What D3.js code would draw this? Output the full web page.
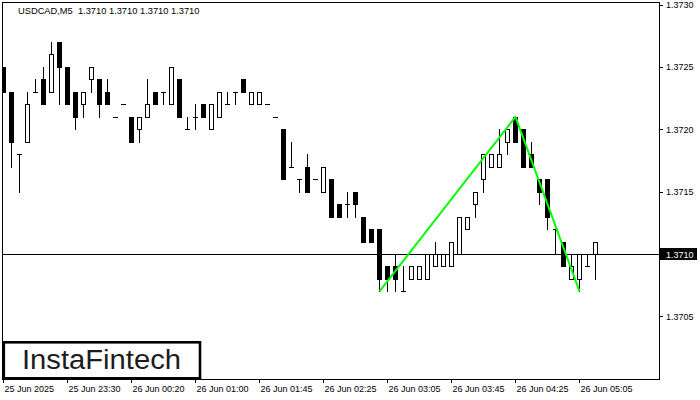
<!DOCTYPE html>
<html>
<head>
<meta charset="utf-8">
<script src="https://cdn.jsdelivr.net/npm/d3@7/dist/d3.min.js"></script>
<style>
  html, body { margin: 0; padding: 0; background: #fff; }
  svg { display: block; }
  text { font-family: "Liberation Sans", Arial, sans-serif; }
</style>
</head>
<body>
<svg id="chart" width="700" height="400"></svg>
<script>
// ---- data (USDCAD M5) ----
const symbolTitle = "USDCAD,M5  1.3710 1.3710 1.3710 1.3710";
const opens = [1.3725,1.3723,1.3718,1.3719,1.3723,1.3724,1.3723,1.3727,1.3725,1.3723,
  1.3722,1.3724,1.3724,1.3723,1.3721,1.3722,1.3721,1.3720,1.3721,1.3723,
  1.3723,1.3722,1.3724,1.3720,1.3721,1.3722,1.3720,1.3721,1.3722,1.3723,
  1.3724,1.3722,1.3722,1.3722,1.3721,1.3720,1.3717,1.3716,1.3717,1.3716,
  1.3715,1.3716,1.3714,1.3714,1.3715,1.3713,1.3712,1.3712,1.3709,1.3709,
  1.3707,1.3708,1.3708,1.3708,1.3709,1.3709,1.3709,1.3710,1.3712,1.3714,
  1.3716,1.3717,1.3717,1.3719,1.3721,1.3720,1.3718,1.3716,1.3716,1.3712,
  1.3711,1.3708,1.3708,1.3709,1.3710];
const highs = [1.3725,1.3723,1.3718,1.3723,1.3724,1.3725,1.3727,1.3727,1.3725,1.3723,
  1.3723,1.3725,1.3724,1.3724,1.3721,1.3722,1.3721,1.3721,1.3724,1.3723,
  1.3723,1.3725,1.3724,1.3721,1.3722,1.3722,1.3722,1.3723,1.3723,1.3723,
  1.3724,1.3723,1.3723,1.3722,1.3721,1.3720,1.3719,1.3716,1.3718,1.3716,
  1.3717,1.3716,1.3714,1.3715,1.3715,1.3713,1.3712,1.3712,1.3709,1.3710,
  1.3709,1.3709,1.3709,1.3710,1.3711,1.3710,1.3711,1.3713,1.3713,1.3715,
  1.3718,1.3718,1.3720,1.3720,1.3721,1.3720,1.3719,1.3716,1.3716,1.3712,
  1.3711,1.3710,1.3710,1.3710,1.3711];
const lows = [1.3723,1.3717,1.3715,1.3719,1.3723,1.3722,1.3723,1.3722,1.3722,1.3720,
  1.3721,1.3723,1.3721,1.3722,1.3721,1.3722,1.3719,1.3719,1.3721,1.3722,
  1.3722,1.3722,1.3721,1.3720,1.3720,1.3721,1.3720,1.3721,1.3722,1.3722,
  1.3723,1.3722,1.3722,1.3722,1.3721,1.3716,1.3717,1.3715,1.3715,1.3716,
  1.3715,1.3713,1.3713,1.3713,1.3713,1.3711,1.3711,1.3707,1.3707,1.3707,
  1.3707,1.3708,1.3708,1.3708,1.3709,1.3709,1.3709,1.3710,1.3712,1.3713,
  1.3715,1.3717,1.3717,1.3718,1.3719,1.3717,1.3717,1.3714,1.3712,1.3710,
  1.3709,1.3708,1.3707,1.3709,1.3708];
const closes = [1.3723,1.3719,1.3718,1.3722,1.3723,1.3722,1.3726,1.3725,1.3722,1.3721,
  1.3723,1.3725,1.3722,1.3722,1.3721,1.3722,1.3719,1.3721,1.3722,1.3722,
  1.3723,1.3725,1.3721,1.3720,1.3721,1.3721,1.3722,1.3723,1.3722,1.3723,
  1.3723,1.3723,1.3723,1.3722,1.3721,1.3716,1.3717,1.3716,1.3715,1.3716,
  1.3717,1.3713,1.3713,1.3714,1.3714,1.3711,1.3711,1.3708,1.3708,1.3708,
  1.3707,1.3709,1.3709,1.3710,1.3710,1.3710,1.3711,1.3713,1.3713,1.3715,
  1.3718,1.3718,1.3718,1.3720,1.3719,1.3717,1.3717,1.3715,1.3713,1.3712,
  1.3709,1.3709,1.3710,1.3709,1.3711];
const timeTickIndex = [0, 8, 16, 24, 32, 40, 48, 56, 64, 72];
const timeTickLabels = ["25 Jun 2025","25 Jun 23:30","26 Jun 00:20","26 Jun 01:00","26 Jun 01:45",
  "26 Jun 02:25","26 Jun 03:05","26 Jun 03:45","26 Jun 04:25","26 Jun 05:05"];
const priceTicks = [1.3705, 1.3715, 1.3720, 1.3725, 1.3730];
const currentPrice = 1.3710;
const patternIndex = [47, 64, 72];
const patternPrice = [1.3707, 1.3721, 1.3707];
const logoText = "InstaFintech";

// ---- layout ----
const W = 700, H = 400;
const plotL = 2, plotR = 659, plotT = 2, plotB = 379;
const svg = d3.select("#chart");
svg.append("rect").attr("width", W).attr("height", H).attr("fill", "#fff");

const x = d3.scaleLinear().domain([0, opens.length - 1]).range([3, 3 + 8 * (opens.length - 1)]);
const y = d3.scaleLinear().domain([1.3700, 1.3730]).range([378.7, 4.6]);
const py = v => Math.round(y(v));

svg.append("clipPath").attr("id", "plotclip").append("rect")
  .attr("x", plotL + 1).attr("y", plotT + 1).attr("width", plotR - plotL - 1).attr("height", plotB - plotT - 1);

const plot = svg.append("g").attr("clip-path", "url(#plotclip)").attr("shape-rendering", "crispEdges");

// current price line
plot.append("line")
  .attr("x1", plotL).attr("x2", plotR)
  .attr("y1", py(currentPrice) + 0.5).attr("y2", py(currentPrice) + 0.5)
  .attr("stroke", "#000").attr("stroke-width", 1);

const bars = opens.map((o, i) => ({ i, o, h: highs[i], l: lows[i], c: closes[i] }));
const g = plot.selectAll("g.bar").data(bars).join("g").attr("class", "bar");

// wicks
g.append("line")
  .attr("x1", d => x(d.i) + 0.5).attr("x2", d => x(d.i) + 0.5)
  .attr("y1", d => py(d.h)).attr("y2", d => py(d.l) + 1)
  .attr("stroke", "#000").attr("stroke-width", 1);

// bodies
g.each(function(d) {
  const sel = d3.select(this);
  const cx = x(d.i);
  const top = py(Math.max(d.o, d.c)), bot = py(Math.min(d.o, d.c));
  if (d.o === d.c) {
    sel.append("line").attr("x1", cx - 2).attr("x2", cx + 3)
      .attr("y1", top + 0.5).attr("y2", top + 0.5)
      .attr("stroke", "#000").attr("stroke-width", 1);
  } else if (d.c > d.o) {
    sel.append("rect").attr("x", cx - 2 + 0.5).attr("y", top + 0.5)
      .attr("width", 4).attr("height", bot - top)
      .attr("fill", "#fff").attr("stroke", "#000").attr("stroke-width", 1);
  } else {
    sel.append("rect").attr("x", cx - 2).attr("y", top)
      .attr("width", 5).attr("height", bot - top + 1)
      .attr("fill", "#000");
  }
});

// pattern lines
const pattern = patternIndex.map((idx, k) => [x(idx) + 0.5, y(patternPrice[k])]);
svg.append("path")
  .attr("d", d3.line()(pattern))
  .attr("fill", "none").attr("stroke", "#00ff00").attr("stroke-width", 2)
  .attr("stroke-linejoin", "round");

// border
svg.append("rect")
  .attr("x", plotL + 0.5).attr("y", plotT + 0.5)
  .attr("width", plotR - plotL).attr("height", plotB - plotT)
  .attr("fill", "none").attr("stroke", "#000").attr("stroke-width", 1)
  .attr("shape-rendering", "crispEdges");

// right price axis
const yAxis = svg.append("g").attr("transform", `translate(${plotR},0)`)
  .call(d3.axisRight(y).tickValues(priceTicks).tickSize(4).tickSizeOuter(0).tickFormat(d3.format(".4f")));
yAxis.select(".domain").remove();
yAxis.selectAll("line").attr("stroke", "#000").attr("shape-rendering", "crispEdges");
yAxis.selectAll("text").attr("font-size", 9).attr("font-family", "Liberation Sans, Arial, sans-serif").attr("fill", "#000");

// current price label
const cp = py(currentPrice);
svg.append("rect").attr("x", 660).attr("y", cp - 6).attr("width", 37).attr("height", 12).attr("fill", "#000");
svg.append("text").attr("x", 666).attr("y", cp + 3.5).attr("font-size", 9).attr("fill", "#fff")
  .text(d3.format(".4f")(currentPrice));

// bottom time axis
const xAxis = svg.append("g").attr("transform", `translate(0,${plotB})`)
  .call(d3.axisBottom(x).tickValues(timeTickIndex).tickSize(4).tickSizeOuter(0)
    .tickFormat((d, k) => timeTickLabels[timeTickIndex.indexOf(d)]));
xAxis.select(".domain").remove();
xAxis.selectAll("line").attr("stroke", "#000").attr("shape-rendering", "crispEdges");
xAxis.selectAll("text").attr("text-anchor", "start").attr("x", 1)
  .attr("font-size", 9).attr("font-family", "Liberation Sans, Arial, sans-serif").attr("fill", "#000");

// title
svg.append("text").attr("x", 18).attr("y", 14).attr("font-size", 9.3).attr("fill", "#000")
  .style("white-space", "pre").text(symbolTitle);

// logo
svg.append("rect").attr("x", 3.8).attr("y", 342.3).attr("width", 196.2).attr("height", 36)
  .attr("fill", "#fff").attr("stroke", "#000").attr("stroke-width", 2.6);
svg.append("text").attr("x", 22).attr("y", 369).attr("font-size", 27)
  .attr("font-family", "Lato, 'Open Sans', sans-serif").attr("font-weight", 500)
  .attr("fill", "#1c1c1c").attr("textLength", 159).attr("lengthAdjust", "spacingAndGlyphs")
  .text(logoText);
</script>
</body>
</html>
